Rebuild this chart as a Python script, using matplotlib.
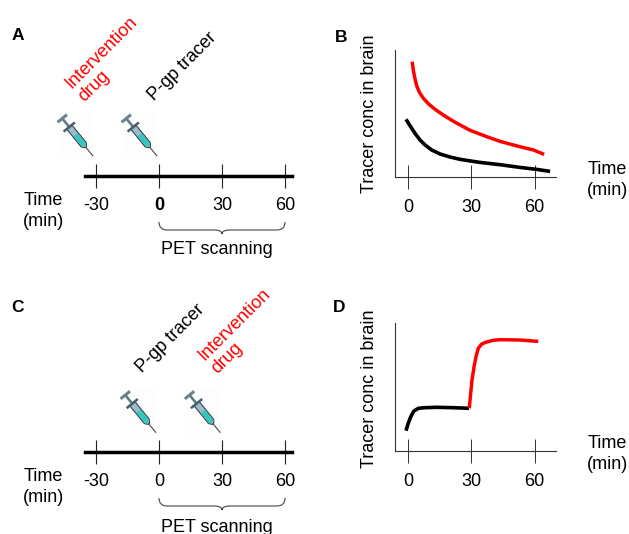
import numpy as np
import matplotlib.pyplot as plt
from matplotlib.patches import PathPatch, Polygon, Rectangle
from matplotlib.path import Path

plt.rcParams['font.family'] = ['Liberation Sans', 'DejaVu Sans']
plt.rcParams['font.size'] = 13
plt.rcParams['axes.unicode_minus'] = False

time_ticks = [-30, 0, 30, 60]
curve_ticks = [0, 30, 60]

# panel B, time in min, conc in arbitrary units
b_red_t = [2.0, 2.5, 3.2, 4.1, 5.4, 7.3, 9.6, 12.8, 16.7, 21.5, 26.2, 29.4, 37.3, 43.6, 53, 59.4, 64.5]
b_red_y = [115, 106.7, 99, 91, 84.4, 78.4, 73, 67.4, 61.7, 55.4, 50, 46.4, 40, 35.3, 30, 26.7, 22.3]
b_black_t = [-0.95, 0.95, 3.3, 5.7, 8.1, 11.2, 15.2, 19.9, 24.6, 29.4, 34.1, 43.6, 53, 61, 67.3]
b_black_y = [57.4, 51, 43.4, 36.7, 31.7, 26.7, 22.7, 19.7, 17.4, 15.8, 14.3, 12, 9.3, 7.3, 5.3]

# panel D
d_black_t = [-0.95, 0, 1.3, 2.8, 4.9, 8.1, 13.6, 21.5, 28.9]
d_black_y = [20, 26.7, 34, 39.7, 42.4, 43, 43.4, 43, 42.4]
d_red_t = [29, 29.7, 30.3, 31.3, 32.2, 33.3, 34.9, 37.3, 40.4, 43.6, 53, 61.7]
d_red_y = [42.4, 57.4, 70.7, 84, 94, 102.4, 106.7, 108.7, 110.4, 111, 110.7, 109.3]

W, H = 629, 534
fig = plt.figure(figsize=(W / 100, H / 100), dpi=100)


def px_axes(left, top, right, bottom):
    return fig.add_axes([left / W, 1 - bottom / H, (right - left) / W, (bottom - top) / H])


# overlay in pixel coords for the labels, syringes and braces
over = fig.add_axes([0, 0, 1, 1])
over.set_xlim(0, W)
over.set_ylim(H, 0)
over.axis('off')


def syringe(tip_x, tip_y):
    tip = np.array([tip_x, tip_y], dtype=float)
    d = np.array([-0.634, -0.776])
    n = np.array([0.776, -0.634])

    def pts(*uv):
        return [tip + u * d + v * n for u, v in uv]

    over.add_patch(Rectangle((tip_x - 35, tip_y - 44), 36, 46, fc='#fdfdfd', ec='none', zorder=1))
    over.plot(*zip(*pts((0, 0), (12, 0))), color='#444c50', lw=0.8, zorder=2)
    over.add_patch(Polygon(pts((11, -1), (14, -3.3), (37, -3.3), (37, 3.3), (14, 3.3), (11, 1)),
                           fc='#9dbccb', ec='#33434c', lw=0.8, zorder=3))
    over.add_patch(Polygon(pts((13, -2.6), (27, -2.6), (27, 2.6), (13, 2.6)),
                           fc='#35c6bc', ec='none', zorder=4))
    over.plot(*zip(*pts((37, -6), (37, 6))), color='#4a5e68', lw=1.8, zorder=4)
    over.plot(*zip(*pts((37, 0), (47, 0))), color='#5f7580', lw=1.8, zorder=3)
    over.plot(*zip(*pts((48, -4.5), (48, 4.5))), color='#6b818c', lw=2.2, zorder=4)


def brace(y):
    x0, xm, x1 = 159, 222, 285
    verts = [(x0, y), (x0, y + 8), (x0 + 8, y + 8),
             (xm - 8, y + 8), (xm, y + 8), (xm, y + 12),
             (xm, y + 8), (xm + 8, y + 8), (x1 - 8, y + 8),
             (x1, y + 8), (x1, y)]
    codes = [Path.MOVETO, Path.CURVE3, Path.CURVE3,
             Path.LINETO, Path.CURVE3, Path.CURVE3,
             Path.CURVE3, Path.CURVE3, Path.LINETO,
             Path.CURVE3, Path.CURVE3]
    over.add_patch(PathPatch(Path(verts, codes), fc='none', ec='#444444', lw=0.8))


def timeline(line_y):
    ax = px_axes(85, line_y - 12, 292, line_y + 12)
    ax.set_xlim(-35.2, 63.3)
    ax.patch.set_alpha(0)
    for s in ['left', 'right', 'top']:
        ax.spines[s].set_visible(False)
    ax.spines['bottom'].set_position(('axes', 0.5))
    ax.spines['bottom'].set_linewidth(2.5)
    ax.set_yticks([])
    ax.set_xticks(time_ticks)
    ax.tick_params(axis='x', direction='inout', length=17.3, width=0.8, pad=6.5, labelsize=13, color='#222222')
    return ax


def curve_panel(top, bottom, ymax):
    ax = px_axes(394.7, top, 556, bottom)
    ax.set_xlim(-6.3, 70.1)
    ax.set_ylim(0, ymax)
    ax.patch.set_alpha(0)
    ax.spines['right'].set_visible(False)
    ax.spines['top'].set_visible(False)
    ax.spines['left'].set_color('#333333')
    ax.spines['bottom'].set_color('#333333')
    ax.set_yticks([])
    ax.set_xticks(curve_ticks)
    ax.tick_params(axis='x', direction='inout', length=17, width=0.7, pad=7.5, labelsize=13, color='#333333')
    return ax


ax_a = timeline(176)
ax_a.get_xticklabels()[1].set_fontweight('bold')
ax_c = timeline(452.3)

ax_b = curve_panel(50, 176.7, 126.7)
ax_b.plot(b_red_t, b_red_y, color='#ff0000', lw=2.5, clip_on=False, solid_capstyle='butt')
ax_b.plot(b_black_t, b_black_y, color='black', lw=2.6, clip_on=False, solid_capstyle='butt')

ax_d = curve_panel(323, 450.7, 127.7)
ax_d.plot(d_black_t, d_black_y, color='black', lw=2.6, clip_on=False, solid_capstyle='butt')
ax_d.plot(d_red_t, d_red_y, color='#ff0000', lw=2.5, clip_on=False, solid_capstyle='butt')

# panel letters
for letter, x, y in [('A', 18, 36), ('B', 341, 37), ('C', 17, 307), ('D', 339, 307)]:
    over.text(x, y, letter, fontweight='bold', fontsize=12.5, ha='center', va='center')

# drug and tracer labels
over.text(108, 59, 'Intervention\ndrug', color='#ff0000', rotation=45, ha='center', va='center', multialignment='left')
over.text(182, 66.5, 'P-gp tracer', rotation=45, ha='center', va='center')
over.text(170, 339, 'P-gp tracer', rotation=45, ha='center', va='center')
over.text(241, 331, 'Intervention\ndrug', color='#ff0000', rotation=45, ha='center', va='center', multialignment='left')

for x, y in [(92.7, 155.7), (156.7, 155.7), (155.7, 432.3), (220, 432.3)]:
    syringe(x, y)

brace(222)
brace(498)

over.text(217, 250, 'PET scanning', ha='center', va='center')
over.text(217, 527, 'PET scanning', ha='center', va='center')

for x, y in [(43, 211), (43, 487), (607, 180), (607, 454)]:
    over.text(x, y, 'Time\n(min)', ha='center', va='center', multialignment='center', linespacing=1.3)

over.text(370, 114, 'Tracer conc in brain', rotation=90, ha='center', va='center')
over.text(370, 389, 'Tracer conc in brain', rotation=90, ha='center', va='center')

plt.savefig('out.png', dpi=100)
